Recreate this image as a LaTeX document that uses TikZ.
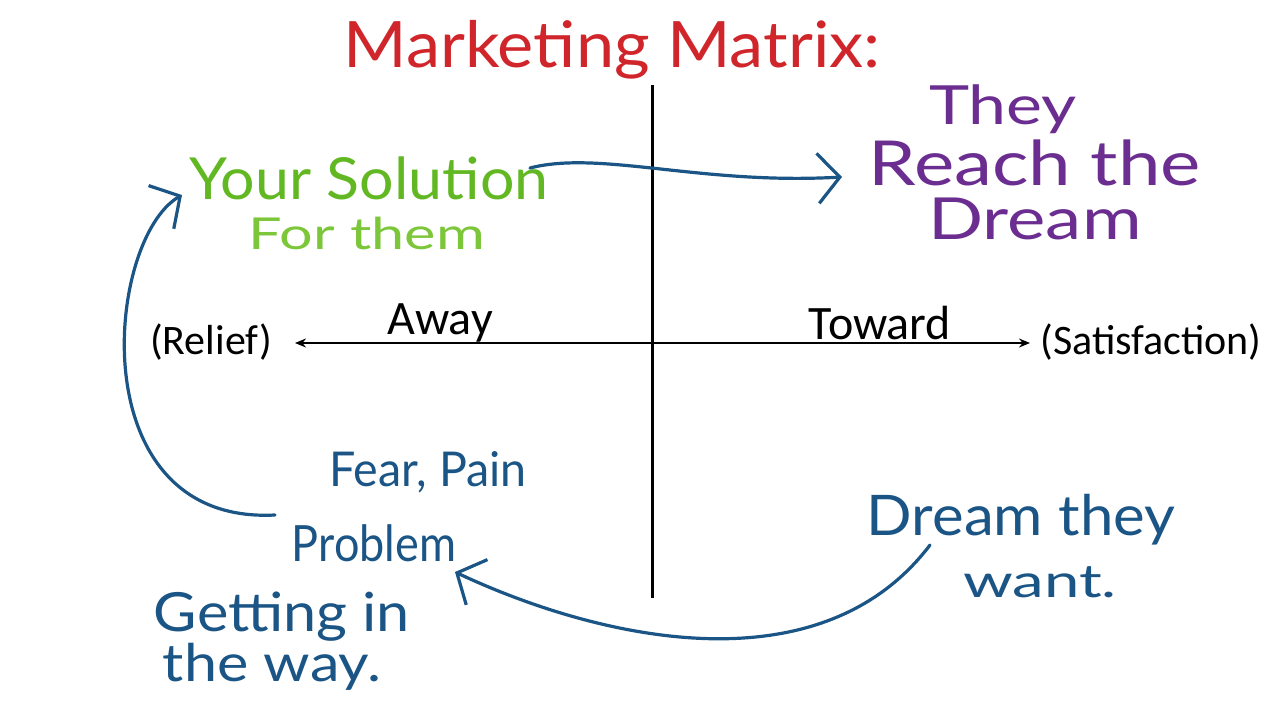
\documentclass[tikz,border=0pt]{standalone}
\usepackage{fontspec}
\setmainfont{Carlito}
\newfontfamily\hand{Lato}
\usetikzlibrary{arrows.meta}
\definecolor{tred}{HTML}{D0262B}
\definecolor{tgreen}{HTML}{62B822}
\definecolor{tgreenl}{HTML}{7CC63A}
\definecolor{tpurple}{HTML}{6B2D90}
\definecolor{tblue}{HTML}{1B5586}
\newcommand{\hw}[3]{{\hand\fontsize{#1}{#1}\selectfont\scalebox{#2}[1]{#3}}}
\tikzset{
  lbl/.style={font=\fontsize{42}{46}\selectfont, inner sep=0pt, anchor=center},
  biglbl/.style={font=\fontsize{48}{52}\selectfont, inner sep=0pt, anchor=center},
  hwnode/.style={inner sep=0pt, anchor=center},
  bluearrow/.style={draw=tblue, line width=3.2pt, line cap=round,
     -{Straight Barb[length=22pt,width=50pt,line width=3.2pt]}},
  axis/.style={draw=black, line width=2pt, {Stealth[length=11pt,width=9pt]}-{Stealth[length=11pt,width=9pt]}}
}
\begin{document}
\begin{tikzpicture}[x=1pt,y=-1pt]
\useasboundingbox[fill=white] (0,0) rectangle (1280,720);
% title
\node[hwnode, text=tred] (title) at (612,50) {\hw{64}{1.07}{Marketing Matrix:}};
% axes
\coordinate (vtop) at (652,85);
\coordinate (vbot) at (652,598);
\draw[line width=3pt] (vtop) -- (vbot);
\node[lbl] (relief) at (211,342) {(Relief)};
\node[lbl] (satis) at (1151,342) {(Satisfaction)};
\node[biglbl] (away) at (440,323) {Away};
\node[biglbl] (toward) at (880,323) {Toward};
\coordinate (axl) at (295,343);
\coordinate (axr) at (1030,343);
\draw[axis] (axl) -- (axr);
% green
\node[hwnode, text=tgreen] (sol) at (369,178) {\hw{58}{1.05}{Your Solution}};
\node[hwnode, text=tgreenl] (for) at (367,233) {\hw{44}{1.35}{For them}};
% purple
\node[hwnode, text=tpurple] (they) at (1003,109) {\hw{54}{1.26}{They}};
\node[hwnode, text=tpurple] (reach) at (1035,163) {\hw{62}{1.23}{Reach the}};
\node[hwnode, text=tpurple] (dream) at (1035,219) {\hw{58}{1.25}{Dream}};
% blue texts
\node[hwnode, text=tblue] (fear) at (428,472) {\hw{48}{0.97}{Fear, Pain}};
\node[hwnode, text=tblue] (prob) at (374,543) {\hw{50}{0.9}{Problem}};
\node[hwnode, text=tblue] (get) at (282,617) {\hw{54}{1.1}{Getting in}};
\node[hwnode, text=tblue] (way) at (272,667) {\hw{52}{1.14}{the way.}};
\node[hwnode, text=tblue] (dwant) at (1021,520) {\hw{56}{1.07}{Dream they}};
\node[hwnode, text=tblue] (want) at (1040,582) {\hw{46}{1.38}{want.}};
% arrows
\coordinate (a1s) at (530,168);
\coordinate (a1e) at (842,177);
\draw[bluearrow] (a1s) .. controls (600,150) and (700,185) .. (a1e);
\coordinate (a2s) at (275,515);
\coordinate (a2e) at (182,195);
\draw[bluearrow] (a2s) .. controls (80,525) and (105,240) .. (a2e);
\coordinate (a3s) at (930,545);
\coordinate (a3e) at (455,572);
\draw[bluearrow] (a3s) .. controls (820,690) and (600,640) .. (a3e);
\end{tikzpicture}
\end{document}
